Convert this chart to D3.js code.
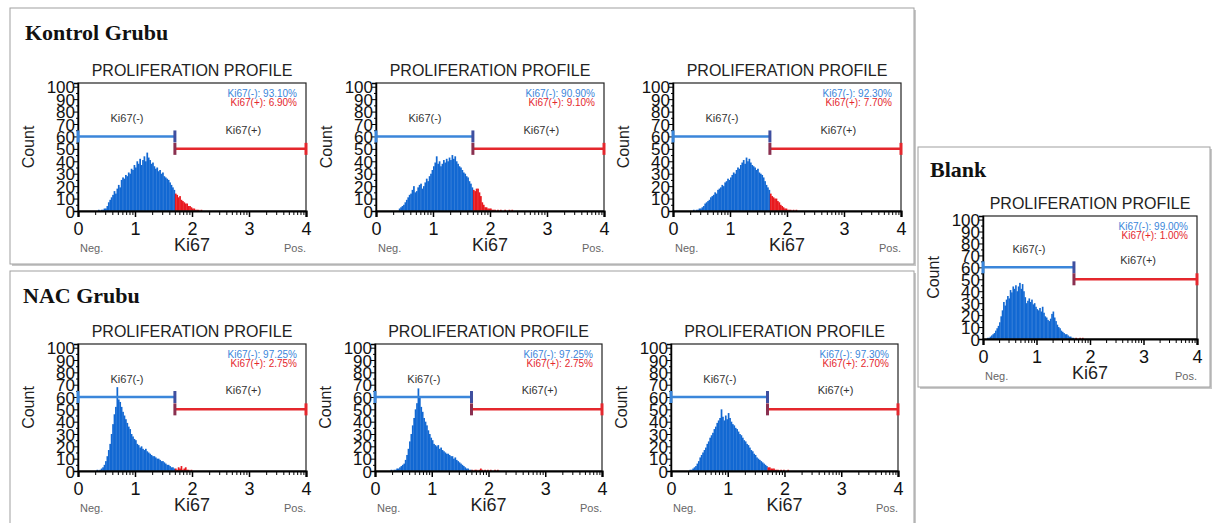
<!DOCTYPE html>
<html>
<head>
<meta charset="utf-8">
<script src="https://cdn.jsdelivr.net/npm/d3@7"></script>
<style>
  body { margin: 0; background: #fff; }
  svg text { font-family: "Liberation Sans", Arial, sans-serif; }
</style>
</head>
<body>
<div id="chart"></div>
<script>
// histogram counts per sample, bin width 0.025 on the Ki67 axis
var binWidth = 0.025;
var binStarts = [0.35, 0.40, 0.35, 0.325, 0.275, 0.325, 0.075];

var kontrol1 = [1,0,1,1,2,2,4,7,9,11,13,16,14,18,21,19,25,27,26,29,28,31,30,34,33,37,35,40,38,42,37,41,44,40,47,43,41,38,39,36,34,35,32,33,30,31,28,27,26,25,23,21,19,17,14,13,11,12,9,8,7,6,6,4,4,3,2,2,1,1,1,0,1];
var kontrol2 = [2,3,4,5,7,9,11,13,14,17,20,15,16,19,21,22,18,20,23,26,24,28,30,33,36,39,44,38,40,36,38,41,39,42,40,43,41,45,42,44,40,38,36,35,33,31,30,28,27,24,22,19,17,16,18,18,15,12,7,5,3,3,2,2,2,1,1,1,0,1,0,1,0,0,1,0,0,1,0,1];
var kontrol3 = [1,0,1,1,2,2,3,4,6,7,8,9,11,12,13,15,14,17,18,19,21,20,23,24,26,25,27,29,31,30,33,35,34,37,39,41,38,43,40,42,39,37,36,35,33,34,31,30,29,27,24,21,19,17,14,12,11,10,10,8,7,5,4,3,2,2,1,1,1,0,1,0,1];
var nac1 = [1,0,1,2,3,5,8,12,17,22,30,38,46,52,68,58,56,52,48,45,42,39,36,34,30,28,26,25,22,21,19,20,18,17,18,16,15,14,13,12,12,11,10,10,9,8,8,7,6,5,5,4,3,3,2,2,1,3,2,4,1,2,3,1,1,0,1];
var nac2 = [1,0,1,1,2,2,3,4,5,6,9,13,18,24,30,37,43,50,55,67,60,52,48,43,40,37,33,30,27,25,22,21,20,21,18,19,17,16,15,14,14,13,12,12,10,11,9,8,7,6,5,4,3,2,2,1,1,1,0,1,1,0,1,2,1,0,1,0,1,0,1,0,0,1,0,1];
var nac3 = [1,1,2,3,4,6,8,11,13,15,17,19,22,24,27,29,31,34,36,39,41,43,50,44,41,45,42,47,43,40,38,37,35,34,32,30,29,27,25,24,22,21,19,17,16,14,13,11,10,9,8,7,6,5,4,3,3,2,2,2,1,1,1,0,1,0,1,0,0,1];
var blank = [1,1,2,3,4,5,7,9,11,14,19,24,31,28,33,36,34,41,39,44,42,45,40,44,47,42,46,40,35,30,32,34,31,33,29,30,27,25,24,26,23,27,22,19,18,16,15,17,21,23,18,15,12,10,9,7,6,5,4,4,3,2,2,1,1,0,1,0,0,1,0,1];

var counts = [kontrol1, kontrol2, kontrol3, nac1, nac2, nac3, blank];
var negPct = ["93.10%", "90.90%", "92.30%", "97.25%", "97.25%", "97.30%", "99.00%"];
var posPct = ["6.90%", "9.10%", "7.70%", "2.75%", "2.75%", "2.70%", "1.00%"];

var groupTitles = ["Kontrol Grubu", "NAC Grubu", "Blank"];
var gateCut = 1.7;
var negGateY = 60;
var posGateY = 50;
var xTicks = [0, 1, 2, 3, 4];
var yTicks = [0, 10, 20, 30, 40, 50, 60, 70, 80, 90, 100];

var svgWidth = 1219;
var svgHeight = 523;

var svg = d3.select("#chart").append("svg")
  .attr("width", svgWidth)
  .attr("height", svgHeight);

// layout
var boxes = [
  {x: 10, y: 8, w: 904, h: 256, title: 0, tx: 25, ty: 40},
  {x: 10, y: 271, w: 904, h: 260, title: 1, tx: 23, ty: 303},
  {x: 918, y: 147, w: 292, h: 240, title: 2, tx: 930, ty: 177}
];
var frames = [
  {left: 78, right: 306, top: 83, bottom: 211},
  {left: 376, right: 604, top: 83, bottom: 211},
  {left: 673, right: 901, top: 83, bottom: 211},
  {left: 78, right: 306, top: 344, bottom: 471},
  {left: 375, right: 602, top: 344, bottom: 471},
  {left: 671, right: 898, top: 344, bottom: 471},
  {left: 983, right: 1197, top: 216, bottom: 339}
];

var blue = "#1268d2";
var red = "#e8191e";
var gateBlue = "#3b86da";
var gateRed = "#e4272d";

boxes.forEach(function(b) {
  svg.append("rect")
    .attr("x", b.x + 2).attr("y", b.y + 2)
    .attr("width", b.w).attr("height", b.h)
    .attr("fill", "#c8c8c8");
  svg.append("rect")
    .attr("x", b.x).attr("y", b.y)
    .attr("width", b.w).attr("height", b.h)
    .attr("fill", "#fff")
    .attr("stroke", "#a0a0a0");
  svg.append("text")
    .attr("x", b.tx).attr("y", b.ty)
    .style("font-family", "'Liberation Serif', 'Times New Roman', serif")
    .style("font-weight", "bold")
    .style("font-size", "22px")
    .attr("fill", "#111")
    .text(groupTitles[b.title]);
});

// minor ticks on the log-decade axis
var minorTicks = [];
for (var d = 0; d < 4; d++) {
  for (var k = 2; k <= 9; k++) minorTicks.push(d + Math.log10(k));
}

frames.forEach(function(f, i) {
  var g = svg.append("g");
  var x = d3.scaleLinear().domain([0, 4]).range([f.left, f.right]);
  var y = d3.scaleLinear().domain([0, 103]).range([f.bottom, f.top]);

  var bins = counts[i].map(function(c, j) {
    return {x0: binStarts[i] + j * binWidth, c: c};
  });

  g.selectAll("rect.bar")
    .data(bins)
    .enter()
    .append("rect")
    .attr("class", "bar")
    .attr("x", d => x(d.x0))
    .attr("width", d => x(d.x0 + binWidth) - x(d.x0) + 0.3)
    .attr("y", d => y(d.c))
    .attr("height", d => f.bottom - y(d.c))
    .attr("fill", d => d.x0 >= gateCut - 1e-9 ? red : blue);

  // frame
  g.append("rect")
    .attr("x", f.left).attr("y", f.top)
    .attr("width", f.right - f.left).attr("height", f.bottom - f.top)
    .attr("fill", "none")
    .attr("stroke", "#222")
    .attr("stroke-width", 1.2);

  // y axis
  var yAxis = g.append("g")
    .attr("transform", `translate(${f.left},0)`)
    .call(d3.axisLeft(y).tickValues(yTicks).tickSize(4).tickPadding(-1));
  yAxis.selectAll("text")
    .style("font-size", "17px")
    .attr("fill", "#111")
    .attr("dy", "0.36em");
  yAxis.select(".domain").attr("stroke-width", 1.5);
  g.append("g")
    .attr("transform", `translate(${f.left},0)`)
    .call(d3.axisLeft(y).tickValues(d3.range(5, 100, 10)).tickSize(2).tickFormat(""))
    .select(".domain").remove();

  // x axis
  var xAxis = g.append("g")
    .attr("transform", `translate(0,${f.bottom})`)
    .call(d3.axisBottom(x).tickValues(xTicks).tickSize(6).tickPadding(5).tickFormat(d3.format("d")));
  xAxis.selectAll("text")
    .style("font-size", "18px")
    .attr("fill", "#111");
  xAxis.select(".domain").attr("stroke-width", 2.2);
  xAxis.selectAll(".tick line").attr("stroke-width", 1.5);
  g.append("g")
    .attr("transform", `translate(0,${f.bottom})`)
    .call(d3.axisBottom(x).tickValues(minorTicks).tickSize(4).tickFormat(""))
    .select(".domain").remove();

  // title and axis captions
  g.append("text")
    .attr("x", (f.left + f.right) / 2).attr("y", f.top - 7)
    .attr("text-anchor", "middle")
    .style("font-size", "16px")
    .attr("fill", "#222")
    .text("PROLIFERATION PROFILE");
  g.append("text")
    .attr("transform", `translate(${f.left - 44},${(f.top + f.bottom) / 2}) rotate(-90)`)
    .attr("text-anchor", "middle")
    .style("font-size", "16px")
    .attr("fill", "#222")
    .text("Count");
  g.append("text")
    .attr("x", (f.left + f.right) / 2).attr("y", f.bottom + 40)
    .attr("text-anchor", "middle")
    .style("font-size", "18px")
    .attr("fill", "#222")
    .text("Ki67");
  g.append("text")
    .attr("x", f.left + 2).attr("y", f.bottom + 41)
    .style("font-size", "11px")
    .attr("fill", "#666")
    .text("Neg.");
  g.append("text")
    .attr("x", f.right).attr("y", f.bottom + 41)
    .attr("text-anchor", "end")
    .style("font-size", "11px")
    .attr("fill", "#666")
    .text("Pos.");

  // gates
  g.append("line")
    .attr("x1", x(0)).attr("x2", x(gateCut))
    .attr("y1", y(negGateY)).attr("y2", y(negGateY))
    .attr("stroke", gateBlue).attr("stroke-width", 2.5);
  [0, gateCut].forEach(function(v) {
    g.append("line")
      .attr("x1", x(v)).attr("x2", x(v))
      .attr("y1", y(negGateY) - 6).attr("y2", y(negGateY) + 6)
      .attr("stroke", v === 0 ? gateBlue : "#3f4f9f").attr("stroke-width", 3);
  });
  g.append("line")
    .attr("x1", x(gateCut)).attr("x2", x(4))
    .attr("y1", y(posGateY)).attr("y2", y(posGateY))
    .attr("stroke", gateRed).attr("stroke-width", 2.5);
  [gateCut, 4].forEach(function(v) {
    g.append("line")
      .attr("x1", x(v)).attr("x2", x(v))
      .attr("y1", y(posGateY) - 6).attr("y2", y(posGateY) + 6)
      .attr("stroke", v === 4 ? gateRed : "#8a3050").attr("stroke-width", 3);
  });

  g.append("text")
    .attr("x", x(0.86)).attr("y", y(negGateY) - 14)
    .attr("text-anchor", "middle")
    .style("font-size", "11px")
    .attr("fill", "#333")
    .text("Ki67(-)");
  g.append("text")
    .attr("x", x(2.9)).attr("y", y(posGateY) - 15)
    .attr("text-anchor", "middle")
    .style("font-size", "11px")
    .attr("fill", "#333")
    .text("Ki67(+)");

  // percentages
  g.append("text")
    .attr("x", f.right - 9).attr("y", f.top + 14)
    .attr("text-anchor", "end")
    .style("font-size", "10px")
    .attr("fill", gateBlue)
    .text("Ki67(-): " + negPct[i]);
  g.append("text")
    .attr("x", f.right - 9).attr("y", f.top + 23)
    .attr("text-anchor", "end")
    .style("font-size", "10px")
    .attr("fill", gateRed)
    .text("Ki67(+): " + posPct[i]);
});
</script>
</body>
</html>
